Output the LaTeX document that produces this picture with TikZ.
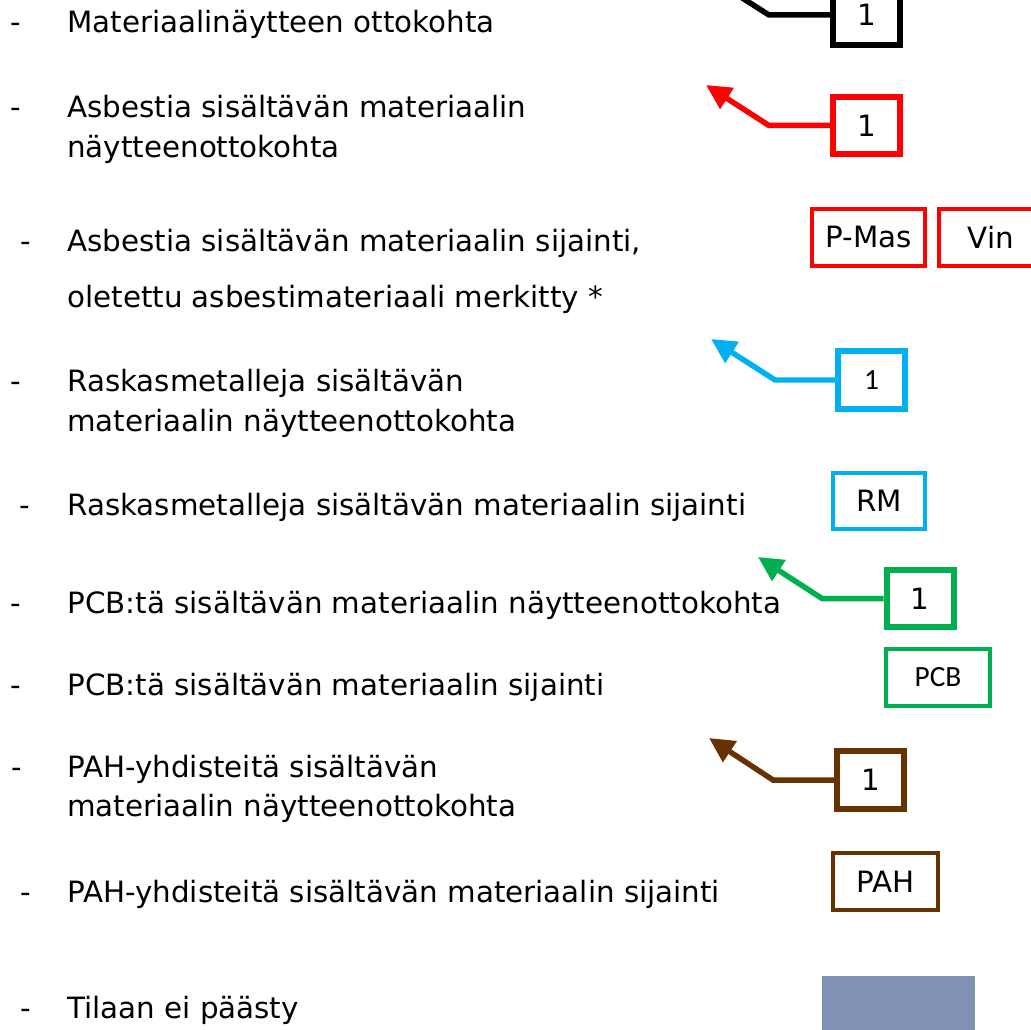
\documentclass[tikz,border=0pt]{standalone}
\usepackage{fontspec}
\setmainfont{DejaVu Sans}
\newfontfamily\calfont{Carlito}
\usetikzlibrary{arrows.meta}

\definecolor{asbred}{HTML}{FF0000}
\definecolor{rmblue}{HTML}{00B0F0}
\definecolor{pcbgreen}{HTML}{00B050}
\definecolor{pahbrown}{HTML}{663300}
\definecolor{noaccess}{HTML}{8191B3}

\newcommand{\legfont}{\fontsize{16.7}{22}\selectfont}

\tikzset{
  legtext/.style={anchor=base west, inner sep=0pt, font=\legfont},
  samplebox/.style={draw=#1, line width=0.12cm, minimum width=1.34cm,
    minimum height=1.16cm, inner sep=0pt, font=\legfont},
  sitebox/.style={draw=#1, line width=0.08cm, minimum height=1.14cm,
    inner sep=0pt, font=\legfont},
  pointer/.style={draw=#1, line width=0.11cm,
    -{Triangle[length=0.5cm,width=0.48cm]}},
}

\begin{document}
\begin{tikzpicture}[x=0.02cm, y=-0.02cm]
\useasboundingbox (0,0) rectangle (1031,1030);
\clip (0,0) rectangle (1031,1030);

% legend texts
\foreach \n/\yy/\txt in {1/33/{Materiaalinäytteen ottokohta},
    2/118/{Asbestia sisältävän materiaalin},
    3/158/{näytteenottokohta},
    4/252/{Asbestia sisältävän materiaalin sijainti,},
    5/308/{oletettu asbestimateriaali merkitty *},
    6/392/{Raskasmetalleja sisältävän},
    7/432/{materiaalin näytteenottokohta},
    8/515/{Raskasmetalleja sisältävän materiaalin sijainti},
    9/613/{PCB:tä sisältävän materiaalin näytteenottokohta},
    10/695/{PCB:tä sisältävän materiaalin sijainti},
    11/777/{PAH-yhdisteitä sisältävän},
    12/816/{materiaalin näytteenottokohta},
    13/902/{PAH-yhdisteitä sisältävän materiaalin sijainti},
    14/1018/{Tilaan ei päästy}}
  \node[legtext] (t\n) at (67,\yy) {\txt};

% dashes
\foreach \n/\xx/\yy in {1/10/33, 2/10/118, 3/20/252, 4/10/392, 5/19/515,
    6/10/613, 7/10/695, 8/11/777, 9/20/902, 10/20/1018}
  \node[legtext] (d\n) at (\xx,\yy) {-};

% sample point boxes
\node[samplebox=black, minimum height=1.2cm] (blkone) at (866.5,15) {1};
\node[samplebox=asbred] (redone) at (866.5,125.5) {1};
\node[samplebox=rmblue, font=\legfont\calfont] (blueone) at (871.5,380) {1};
\node[samplebox=pcbgreen] (greenone) at (920,598.5) {1};
\node[samplebox=pahbrown] (brownone) at (870.5,780) {1};

% location boxes
\node[sitebox=asbred, minimum width=2.26cm] (pmas) at (868.5,237.5) {P-Mas\hspace{0.2cm}};
\node[sitebox=asbred, minimum width=2.08cm] (vin) at (991,237.5) {Vin\hspace{0.3cm}};
\node[sitebox=rmblue, minimum width=1.84cm] (rm) at (879,501) {RM\hspace{0.1cm}};
\node[sitebox=pcbgreen, minimum width=2.08cm, font=\legfont\calfont] (pcb) at (938,677.5) {PCB\hspace{0.25cm}};
\node[sitebox=pahbrown, minimum width=2.1cm] (pah) at (885.5,881.5) {PAH};

% no access
\node[fill=noaccess, minimum width=3.06cm, minimum height=1.08cm, inner sep=0pt] (noacc) at (898.5,1003) {};

% pointer knees and tips
\coordinate (blkknee) at (769,15);
\coordinate (blktip) at (706,-25);
\coordinate (redknee) at (769,125.5);
\coordinate (redtip) at (706,85);
\coordinate (blueknee) at (775,380);
\coordinate (bluetip) at (711,339);
\coordinate (greenknee) at (822,598.5);
\coordinate (greentip) at (758,557);
\coordinate (brownknee) at (773,780);
\coordinate (browntip) at (709,738);

\draw[pointer=black] (blkone.west) -- (blkknee) -- (blktip);
\draw[pointer=asbred] (redone.west) -- (redknee) -- (redtip);
\draw[pointer=rmblue] (blueone.west) -- (blueknee) -- (bluetip);
\draw[pointer=pcbgreen] (greenone.west) -- (greenknee) -- (greentip);
\draw[pointer=pahbrown] (brownone.west) -- (brownknee) -- (browntip);

\end{tikzpicture}
\end{document}
